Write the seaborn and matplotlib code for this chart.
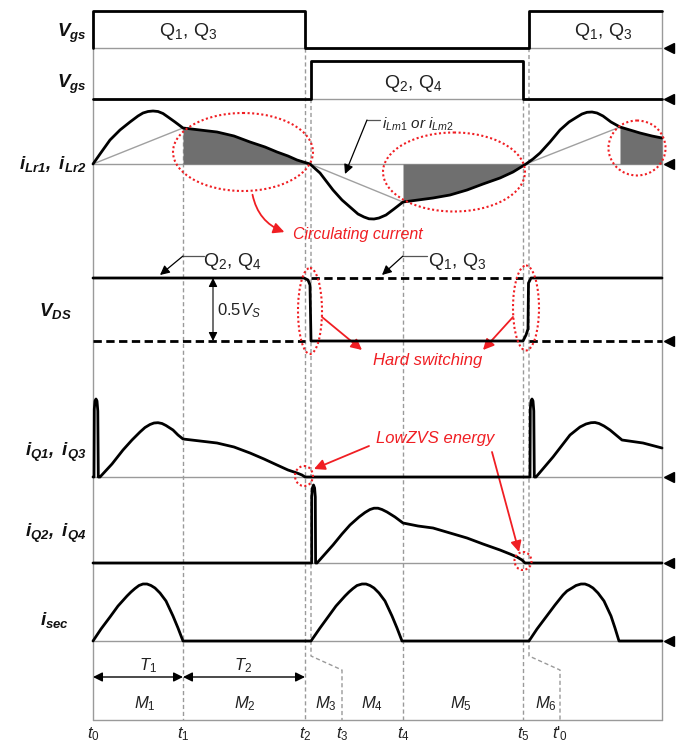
import matplotlib
matplotlib.use('Agg')
import matplotlib.pyplot as plt
import seaborn as sns
import numpy as np
from matplotlib.patches import Ellipse, FancyArrowPatch

sns.set_theme(style='white')
plt.rcParams['font.family'] = ['Liberation Sans', 'DejaVu Sans']
plt.rcParams['mathtext.fontset'] = 'custom'
plt.rcParams['mathtext.rm'] = 'Liberation Sans'
plt.rcParams['mathtext.it'] = 'Liberation Sans:italic'
plt.rcParams['mathtext.bf'] = 'Liberation Sans:italic:bold'

# ---------------- data (time axis in drawing units, values = amplitude) -------------
t_marks = [93, 183, 305, 342, 403, 523, 560]
t_labels = [r'$\mathit{t_0}$', r'$\mathit{t_1}$', r'$\mathit{t_2}$', r'$\mathit{t_3}$',
            r'$\mathit{t_4}$', r'$\mathit{t_5}$', r"$\mathit{t}$'$_{\mathit{0}}$"]
mode_labels = [r'$\mathit{M_1}$', r'$\mathit{M_2}$', r'$\mathit{M_3}$', r'$\mathit{M_4}$',
               r'$\mathit{M_5}$', r'$\mathit{M_6}$']
mode_centers = [145, 245, 326, 372, 461, 546]

vgs13_t = [93, 93, 305, 305, 529, 529, 662]
vgs13_v = [0, 37, 37, 0, 0, 37, 37]
vgs24_t = [93, 311, 311, 523, 523, 662]
vgs24_v = [0, 0, 38, 38, 0, 0]

ilr_t = [93, 100, 110, 120, 130, 138, 143, 148, 153, 158, 163, 168, 175, 183, 200, 217, 234, 250, 265, 277, 288, 297,
         305, 310, 320, 333, 342, 350, 358, 364, 369, 374, 379, 386, 394, 403, 418, 433, 450, 467, 483, 500, 513,
         526, 533, 540, 550, 560, 569, 577, 582, 587, 592, 597, 603, 611, 620, 630, 640, 652, 662]
ilr_v = [0, 10, 24, 34, 42, 48, 51, 52.5, 53, 52.5, 50.5, 47, 42, 36, 34, 32, 28, 22, 17, 12, 8, 4,
         1.5, 0, -9, -26, -36, -43, -50, -53, -54.8, -55, -54, -51, -45, -38, -36, -34, -31, -26, -20, -14, -8,
         0, 5, 11, 22, 34, 42, 47, 50, 51.7, 52, 51, 48, 42, 37, 34, 31, 28, 26]

ilm_segments_t = [[93, 183], [310, 403], [526, 620]]
ilm_segments_v = [[0, 36], [0, -38], [0, 37]]

vds_t = [93, 304, 308, 310, 311, 523, 526, 528, 528.5, 531, 662]
vds_v = [63, 63, 61, 56, 0, 0, 6, 12, 58, 63, 63]
vds_dash_t = [[93, 305], [311, 523], [529, 662]]
vds_dash_v = [[0, 0], [63, 63], [0, 0]]

iq13_t = [93, 94, 94.3, 95, 96, 97, 97.8, 98.3, 100, 112, 123, 132, 140, 145, 150, 154, 158, 162, 166, 173, 178, 183,
          200, 217, 234, 250, 264, 277, 288, 297, 302, 305, 530, 530.3, 531, 532, 533, 533.8, 534.3, 536, 553, 570,
          580, 586, 591, 595, 599, 604, 610, 622, 643, 662]
iq13_v = [0, 0, 68, 76, 78, 76, 66, 0, 0, 13, 27, 37, 45, 49.5, 52.5, 54, 54.3, 53.5, 51.5, 47, 42, 38,
          36, 34, 30, 24, 18, 12, 7, 4, 2, 0, 0, 68, 76, 78, 76, 66, 0, 0, 20, 42,
          50, 53, 54.3, 54.5, 53.5, 51, 47, 37, 34, 29]

iq24_t = [93, 311.7, 311.7, 312.4, 313.5, 314.6, 315.3, 315.6, 317, 325, 333, 342, 350, 359, 365, 370, 374, 378, 382, 387, 395, 403, 418,
          433, 450, 467, 483, 500, 510, 517, 522, 525, 662]
iq24_v = [0, 0, 66, 75, 78, 75, 66, 0, 0, 9, 18, 29, 38, 46, 50.5, 53.5, 54.8, 54.8, 53.5, 51, 46, 40, 37,
          35, 30, 25, 19, 13, 9, 6, 3, 0, 0]

isec_t = [93, 101, 110, 118, 127, 131, 135, 139, 143, 147, 151, 155, 160, 166, 173, 178, 183,
          311, 320, 328, 336, 345, 349, 353, 357, 362, 366, 370, 374, 379, 385, 392, 397, 402,
          529, 537, 546, 555, 563, 567, 572, 576, 581, 585, 589, 593, 598, 604, 611, 615, 619, 662]
isec_v = [0, 12, 24, 35, 45, 49, 52.5, 55.5, 57, 57, 55.5, 53, 48, 40, 25, 13, 0,
          0, 13, 24, 35, 45, 49, 52.5, 55.5, 57, 57, 55.5, 53, 48, 40, 25, 13, 0,
          0, 12, 24, 36, 46, 50, 53, 55.5, 57, 57, 55.5, 53, 48, 40, 25, 13, 0, 0]

# ---------------- layout ----------------
BASE = dict(vgs13=48, vgs24=99, ilr=164, vds=341, iq13=477, iq24=563, isec=641)
X0, X1, YBOT = 93, 662, 720
GRAY = '#9a9a9a'
RED = '#f01e23'
LW = 2.0

fig = plt.figure(figsize=(6.93, 7.44), dpi=100)
ax = fig.add_axes([0, 0, 1, 1])
ax.set_xlim(0, 693)
ax.set_ylim(744, 0)
ax.axis('off')


def to_y(base, vals):
    return [base - v for v in vals]


def wave(t, v, base, **kw):
    sns.lineplot(x=t, y=to_y(base, v), ax=ax, estimator=None, sort=False, legend=False, **kw)


# frame & baselines
ax.plot([X0, X0], [BASE['vgs13'], YBOT], color=GRAY, lw=1, zorder=1)
ax.plot([X1, X1], [11, YBOT], color=GRAY, lw=1, zorder=1)
ax.plot([X0, X1], [YBOT, YBOT], color=GRAY, lw=1, zorder=1)
for k in ['vgs13', 'vgs24', 'ilr', 'iq13', 'iq24', 'isec']:
    ax.plot([X0, X1], [BASE[k], BASE[k]], color=GRAY, lw=1, zorder=1)

# vertical dashed guide lines
dkw = dict(color=GRAY, lw=1, ls=(0, (3, 2)), zorder=1)
ax.plot([183, 183], [128, YBOT], **dkw)
ax.plot([305, 305], [BASE['vgs13'], YBOT], **dkw)
ax.plot([311, 311, 342, 342], [BASE['vgs24'], 656, 670, YBOT], **dkw)
ax.plot([403, 403], [202, YBOT], **dkw)
ax.plot([523, 523], [BASE['vgs24'], YBOT], **dkw)
ax.plot([529, 529, 560, 560], [BASE['vgs13'], 656, 670, YBOT], **dkw)

# right-side arrow markers
for k in ['vgs13', 'vgs24', 'ilr', 'vds', 'iq13', 'iq24', 'isec']:
    ax.plot([669], [BASE[k]], marker='<', color='black', markersize=7, zorder=5)

# waveforms
wave(vgs13_t, vgs13_v, BASE['vgs13'], color='black', linewidth=LW, zorder=4)
wave(vgs24_t, vgs24_v, BASE['vgs24'], color='black', linewidth=LW, zorder=4)

ilr_t_a = np.array(ilr_t, float)
ilr_y = np.array(to_y(BASE['ilr'], ilr_v))
for lo, hi in [(183, 310), (403, 526), (620, 662)]:
    m = (ilr_t_a >= lo) & (ilr_t_a <= hi)
    ax.fill_between(ilr_t_a[m], ilr_y[m], BASE['ilr'], color='#6f6f6f', lw=0, zorder=2)
for tt, vv in zip(ilm_segments_t, ilm_segments_v):
    wave(tt, vv, BASE['ilr'], color='#a0a0a0', linewidth=1, zorder=3)
wave(ilr_t, ilr_v, BASE['ilr'], color='black', linewidth=LW, zorder=4)

wave(vds_t, vds_v, BASE['vds'], color='black', linewidth=LW, zorder=4)
for tt, vv in zip(vds_dash_t, vds_dash_v):
    ax.plot(tt, to_y(BASE['vds'], vv), color='black', lw=LW, ls=(0, (3, 1.6)), zorder=4)

wave(iq13_t, iq13_v, BASE['iq13'], color='black', linewidth=LW, zorder=4)
wave(iq24_t, iq24_v, BASE['iq24'], color='black', linewidth=LW, zorder=4)
wave(isec_t, isec_v, BASE['isec'], color='black', linewidth=LW, zorder=4)

# left labels
lab = dict(fontsize=13.5, color='#111111', va='center')
ax.text(87, 33, r'$\mathbf{V_{gs}}$', ha='right', **lab)
ax.text(87, 84, r'$\mathbf{V_{gs}}$', ha='right', **lab)
ax.text(87, 164, r'$\mathbf{i_{Lr1},\ i_{Lr2}}$', ha='right', **lab)
ax.text(55, 311, r'$\mathbf{V_{DS}}$', ha='center', **lab)
ax.text(87, 452, r'$\mathbf{i_{Q1},\ i_{Q3}}$', ha='right', **lab)
ax.text(87, 533, r'$\mathbf{i_{Q2},\ i_{Q4}}$', ha='right', **lab)
ax.text(55, 620, r'$\mathbf{i_{sec}}$', ha='center', **lab)

# gate labels
qkw = dict(fontsize=14, color='#222222', ha='center', va='center')
ax.text(188, 31, r'$\mathrm{Q}_{\mathit{1}}$, $\mathrm{Q}_{\mathit{3}}$', **qkw)
ax.text(603, 31, r'$\mathrm{Q}_{\mathit{1}}$, $\mathrm{Q}_{\mathit{3}}$', **qkw)
ax.text(413, 83, r'$\mathrm{Q}_{2}$, $\mathrm{Q}_{4}$', **qkw)

# i_Lm annotation
ax.text(382, 124, r'$\mathit{i_{Lm1}}$ $\mathit{or}$ $\mathit{i_{Lm2}}$', fontsize=11, ha='left', va='center', color='#222222')
ax.plot([380, 367], [120, 120], color='#555555', lw=0.9)
ax.annotate('', xy=(345, 174), xytext=(367, 120),
            arrowprops=dict(arrowstyle='-|>', color='black', lw=0.9, mutation_scale=14, shrinkA=0, shrinkB=0))

# red ellipses
ekw = dict(fill=False, edgecolor=RED, lw=1.5, ls=(0, (1, 1.2)), zorder=6)
for (cx, cy, w, h) in [(243, 152, 140, 78), (454, 172, 142, 79), (637, 148, 57, 55),
                       (310, 311, 24, 86), (526, 308, 26, 85), (304, 476, 18, 20), (523, 561, 17, 18)]:
    ax.add_patch(Ellipse((cx, cy), w, h, **ekw))

# circulating current
ax.add_patch(FancyArrowPatch((252, 192), (287, 233), connectionstyle='arc3,rad=0.3',
                             arrowstyle='-|>', mutation_scale=16, color=RED, lw=1.3, zorder=6))
ax.text(358, 235, 'Circulating current', fontsize=11.5, style='italic', color=RED, ha='center', va='center')

# VDS annotations
ax.annotate('', xy=(213, 278), xytext=(213, 341),
            arrowprops=dict(arrowstyle='<|-|>', color='black', lw=0.8, mutation_scale=13, shrinkA=0, shrinkB=0))
ax.text(217, 311, r'$\mathit{0.5V_S}$', fontsize=12, ha='left', va='center', color='#222222')

ax.text(232, 262, r'$\mathrm{Q}_{2}$, $\mathrm{Q}_{4}$', **qkw)
ax.plot([204, 183], [256, 256], color='#555555', lw=0.9)
ax.annotate('', xy=(160, 275), xytext=(183, 256),
            arrowprops=dict(arrowstyle='-|>', color='black', lw=0.9, mutation_scale=14, shrinkA=0, shrinkB=0))
ax.text(457, 262, r'$\mathrm{Q}_{\mathit{1}}$, $\mathrm{Q}_{\mathit{3}}$', **qkw)
ax.plot([427, 403], [256, 256], color='#555555', lw=0.9)
ax.annotate('', xy=(382, 275), xytext=(403, 256),
            arrowprops=dict(arrowstyle='-|>', color='black', lw=0.9, mutation_scale=14, shrinkA=0, shrinkB=0))

akw = dict(arrowstyle='-|>', color=RED, lw=1.3, mutation_scale=16, shrinkA=0, shrinkB=0)
ax.annotate('', xy=(362, 350), xytext=(322, 317), arrowprops=akw)
ax.annotate('', xy=(483, 350), xytext=(513, 317), arrowprops=akw)
ax.text(428, 360, 'Hard switching', fontsize=12, style='italic', color=RED, ha='center', va='center')

ax.text(435, 438, 'LowZVS energy', fontsize=12, style='italic', color=RED, ha='center', va='center')
ax.annotate('', xy=(314, 469), xytext=(369, 446), arrowprops=akw)
ax.annotate('', xy=(519, 552), xytext=(492, 452), arrowprops=akw)

# T intervals
tkw = dict(arrowstyle='<|-|>', color='black', lw=1.0, mutation_scale=14, shrinkA=0, shrinkB=0)
ax.annotate('', xy=(93, 677), xytext=(183, 677), arrowprops=tkw)
ax.annotate('', xy=(183, 677), xytext=(305, 677), arrowprops=tkw)
ax.text(148, 666, r'$\mathit{T_1}$', fontsize=12, ha='center', va='center', color='#222222')
ax.text(243, 666, r'$\mathit{T_2}$', fontsize=12, ha='center', va='center', color='#222222')

for xm, lb in zip(mode_centers, mode_labels):
    ax.text(xm, 704, lb, fontsize=12, ha='center', va='center', color='#222222')
for xt, lb in zip(t_marks, t_labels):
    ax.text(xt, 734, lb, fontsize=12, ha='center', va='center', color='#222222')

fig.savefig('out.png', dpi=100, facecolor='white')
